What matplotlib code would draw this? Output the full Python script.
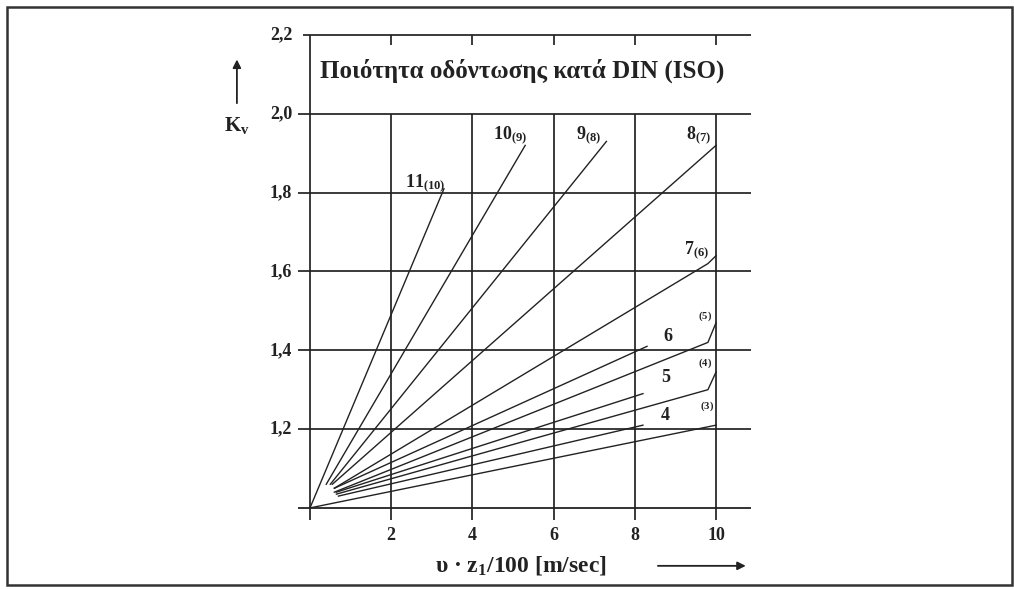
import matplotlib
matplotlib.use("Agg")
import matplotlib.pyplot as plt
from matplotlib.patches import Rectangle

plt.rcParams['font.family'] = ['Liberation Serif', 'DejaVu Serif']
plt.rcParams['font.weight'] = 'bold'
plt.rcParams['mathtext.fontset'] = 'custom'
plt.rcParams['mathtext.rm'] = 'Liberation Serif:bold'
plt.rcParams['mathtext.it'] = 'Liberation Serif:bold'
plt.rcParams['mathtext.bf'] = 'Liberation Serif:bold'

# grid / ticks
x_ticks = [2, 4, 6, 8, 10]
x_tick_labels = ['2', '4', '6', '8', '10']
y_ticks = [1.2, 1.4, 1.6, 1.8, 2.0, 2.2]
y_tick_labels = ['1,2', '1,4', '1,6', '1,8', '2,0', '2,2']

# curves, steepest first  (x, Kv)
curve_x = [
    [0.0, 3.3],          # 11(10)
    [0.4, 5.3],          # 10(9)
    [0.5, 7.3],          # 9(8)
    [0.55, 10.0],        # 8(7)
    [0.6, 9.8, 10.0],    # 7(6)
    [0.6, 8.3],          # 6
    [0.6, 9.8, 10.0],    # (5)
    [0.65, 8.2],         # 5
    [0.65, 9.8, 10.0],   # (4)
    [0.7, 8.2],          # 4
    [0.0, 10.0],         # (3)
]
curve_y = [
    [1.0, 1.81],
    [1.06, 1.92],
    [1.06, 1.93],
    [1.06, 1.92],
    [1.05, 1.62, 1.64],
    [1.05, 1.41],
    [1.04, 1.42, 1.47],
    [1.04, 1.29],
    [1.035, 1.30, 1.345],
    [1.03, 1.21],
    [1.0, 1.21],
]

# curve labels: main text, subscript, position
lab_main = ['11', '10', '9', '8', '7', '6', '', '5', '', '4', '']
lab_sub = ['(10)', '(9)', '(8)', '(7)', '(6)', '', '(5)', '', '(4)', '', '(3)']
lab_x = [2.35, 4.5, 6.55, 9.25, 9.2, 8.7, 9.55, 8.65, 9.55, 8.65, 9.6]
lab_y = [1.825, 1.945, 1.945, 1.945, 1.655, 1.435, 1.48, 1.33, 1.36, 1.235, 1.25]

fig = plt.figure(figsize=(10.14, 5.89), dpi=100)
ax = fig.add_axes([0.2937, 0.0373, 0.4465, 0.9233])
ax.set_xlim(-0.3, 10.85)
ax.set_ylim(0.85, 2.23)
ax.axis('off')

lc = '#222222'
# horizontal lines
ax.hlines([1.0], -0.32, 10.85, color=lc, lw=1.3)
ax.hlines(y_ticks[:-1], -0.3, 10.85, color=lc, lw=1.25)
ax.hlines([2.2], -0.17, 10.85, color=lc, lw=1.25)
# vertical lines
ax.vlines([0], 0.97, 2.2, color=lc, lw=1.25)
ax.vlines(x_ticks, 0.97, 2.0, color=lc, lw=1.25)
ax.vlines(x_ticks, 2.175, 2.2, color=lc, lw=1.25)

for xs, ys in zip(curve_x, curve_y):
    ax.plot(xs, ys, color=lc, lw=1.0)

for m, s, x, y in zip(lab_main, lab_sub, lab_x, lab_y):
    txt = m + (r'$_{\mathregular{%s}}$' % s if s else '')
    if m == '':
        txt = r'$^{\mathregular{%s}}$' % s
    ax.text(x, y, txt, fontsize=13 if m else 11, ha='left', va='center', color=lc)

for v, t in zip(y_ticks, y_tick_labels):
    ax.text(-0.44, v, t, fontsize=13, ha='right', va='center', color=lc)
for v, t in zip(x_ticks, x_tick_labels):
    ax.text(v, 0.93, t, fontsize=13, ha='center', va='center', color=lc)

ax.text(5.22, 2.11, 'Ποιότητα οδόντωσης κατά DIN (ISO)', fontsize=18,
        ha='center', va='center', color=lc)

# axis labels and arrows
ax.text(-1.8, 1.97, r'K$_{\mathregular{v}}$', fontsize=15, ha='center', va='center', color=lc)
ax.annotate('', xy=(-1.8, 2.145), xytext=(-1.8, 2.02),
            arrowprops=dict(arrowstyle='-|>', color=lc, lw=1.3, mutation_scale=12),
            annotation_clip=False)
ax.text(5.2, 0.855, r'υ · z$_{\mathregular{1}}$/100 [m/sec]', fontsize=17,
        ha='center', va='center', color=lc)
ax.annotate('', xy=(10.8, 0.853), xytext=(8.5, 0.853),
            arrowprops=dict(arrowstyle='-|>', color=lc, lw=1.3, mutation_scale=12),
            annotation_clip=False)

# outer frame
fig.patches.append(Rectangle((7 / 1014, 4 / 589), 1005 / 1014, 578 / 589,
                             transform=fig.transFigure, fill=False,
                             edgecolor='#333333', lw=1.8))

fig.savefig('out.png', dpi=100)
